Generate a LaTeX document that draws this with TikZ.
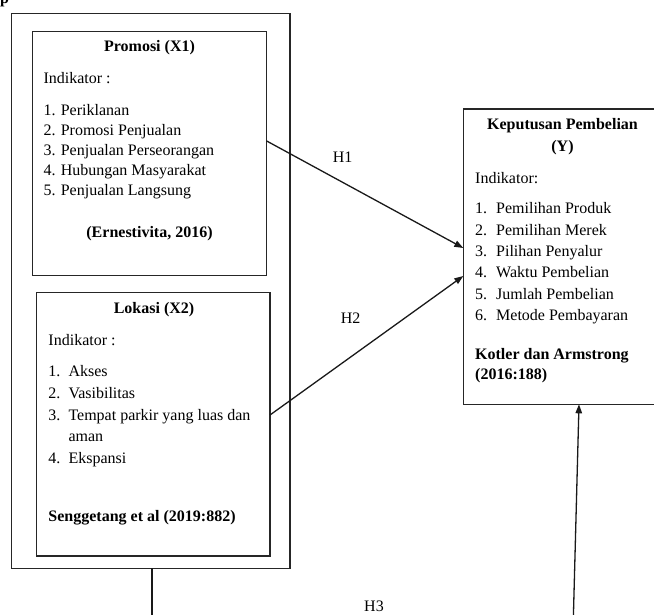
\documentclass[tikz,border=0pt]{standalone}
\usepackage{fontspec}
\setmainfont{Liberation Serif}
\usetikzlibrary{arrows.meta}
\begin{document}
\begin{tikzpicture}[x=1pt,y=-1pt,
  box/.style={draw=black!85,line width=1.2pt,inner sep=0pt,outer sep=0pt,anchor=north west},
  txt/.style={inner sep=0pt,anchor=base west,font=\fontsize{16}{20}\selectfont},
  ctxt/.style={txt,anchor=base},
  btxt/.style={txt,font=\fontsize{16}{20}\selectfont\bfseries},
  cbtxt/.style={btxt,anchor=base},
  link/.style={line width=1.3pt,draw=black!90},
  arr/.style={link,-{Triangle[length=9pt,width=6.5pt]}}]
\useasboundingbox (0,0) rectangle (654,615);
\clip (0,0) rectangle (654,615);
% top-left cut letter
\node[btxt] (pg) at (0,4) {p};
% boxes
\node[box,minimum width=278.3pt,minimum height=555pt] (outer) at (11.7,13.3) {};
\node[box,minimum width=234.4pt,minimum height=244pt] (prom) at (32.3,31.7) {};
\node[box,minimum width=233.3pt,minimum height=263.7pt] (lok) at (36.7,292.3) {};
\node[box,minimum width=198.7pt,minimum height=295.3pt] (kp) at (463.3,109) {};
% Promosi text
\node[cbtxt] (p0) at (149.5,52) {Promosi (X1)};
\node[txt] (p1) at (43.3,84) {Indikator :};
\node[txt] (p2) at (43.3,116) {1. Periklanan};
\node[txt] (p3) at (43.3,136) {2. Promosi Penjualan};
\node[txt] (p4) at (43.3,156) {3. Penjualan Perseorangan};
\node[txt] (p5) at (43.3,176) {4. Hubungan Masyarakat};
\node[txt] (p6) at (43.3,196) {5. Penjualan Langsung};
\node[cbtxt] (p7) at (149.5,237) {(Ernestivita, 2016)};
% Lokasi text
\node[cbtxt] (l0) at (154,313) {Lokasi (X2)};
\node[txt] (l1) at (48.3,345.7) {Indikator :};
\node[txt] (l2a) at (48.3,376.5) {1.};\node[txt] (l2) at (68.3,376.5) {Akses};
\node[txt] (l3a) at (48.3,398.3) {2.};\node[txt] (l3) at (68.3,398.3) {Vasibilitas};
\node[txt] (l4a) at (48.3,420) {3.};\node[txt] (l4) at (68.3,420) {Tempat parkir yang luas dan};
\node[txt] (l5) at (68.3,441.7) {aman};
\node[txt] (l6a) at (48.3,463.3) {4.};\node[txt] (l6) at (68.3,463.3) {Ekspansi};
\node[btxt] (l7) at (48.3,521.7) {Senggetang et al (2019:882)};
% Keputusan text
\node[cbtxt] (k0) at (562.5,130) {Keputusan Pembelian};
\node[cbtxt] (k0b) at (562.5,151.7) {(Y)};
\node[txt] (k1) at (475,183.3) {Indikator:};
\node[txt] (k2a) at (475,214) {1.};\node[txt] (k2) at (496,214) {Pemilihan Produk};
\node[txt] (k3a) at (475,235.3) {2.};\node[txt] (k3) at (496,235.3) {Pemilihan Merek};
\node[txt] (k4a) at (475,256.6) {3.};\node[txt] (k4) at (496,256.6) {Pilihan Penyalur};
\node[txt] (k5a) at (475,277.9) {4.};\node[txt] (k5) at (496,277.9) {Waktu Pembelian};
\node[txt] (k6a) at (475,299.2) {5.};\node[txt] (k6) at (496,299.2) {Jumlah Pembelian};
\node[txt] (k7a) at (475,320.5) {6.};\node[txt] (k7) at (496,320.5) {Metode Pembayaran};
\node[btxt] (k8) at (475,359.3) {Kotler dan Armstrong};
\node[btxt] (k9) at (475,379.3) {(2016:188)};
% connectors
\draw[arr] (prom.east |- 0,141) -- (kp.west |- 0,248);
\draw[arr] (lok.east |- 0,415) -- (kp.west |- 0,276);
\coordinate (h3l) at (152,620);
\coordinate (h3r) at (573.3,620);
\draw[link] (outer.south -| 152,0) -- (h3l);
\draw[arr] (h3r) -- (kp.south -| 579,0);
% labels
\node[ctxt] (h1) at (342.7,162.3) {H1};
\node[ctxt] (h2) at (350.7,323.3) {H2};
\node[ctxt] (h3) at (374,611.7) {H3};
\end{tikzpicture}
\end{document}
